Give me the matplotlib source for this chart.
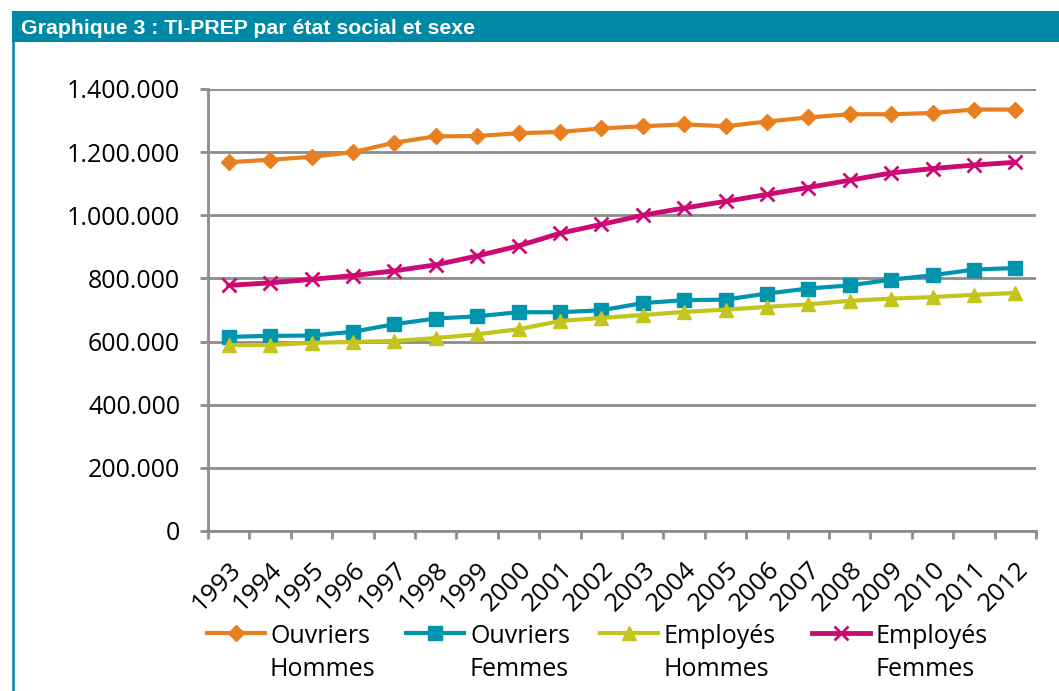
import matplotlib
matplotlib.use("Agg")
import matplotlib.pyplot as plt
from matplotlib.patches import Rectangle
from matplotlib.lines import Line2D
from matplotlib.ticker import FuncFormatter, FixedLocator

years = [str(y) for y in range(1993, 2013)]
ouvriers_hommes = [1168000, 1176000, 1185000, 1200000, 1230000, 1250000, 1251000, 1260000, 1264000, 1275000,
                   1282000, 1288000, 1282000, 1297000, 1310000, 1320000, 1320000, 1324000, 1335000, 1335000]
ouvriers_femmes = [615000, 618000, 619000, 631000, 655000, 673000, 680000, 693000, 693000, 699000,
                   722000, 731000, 733000, 752000, 768000, 778000, 796000, 810000, 828000, 833000]
employes_hommes = [589000, 589000, 596000, 599000, 602000, 611000, 623000, 639000, 665000, 675000,
                   684000, 694000, 701000, 710000, 718000, 729000, 736000, 741000, 748000, 754000]
employes_femmes = [778000, 786000, 797000, 809000, 824000, 843000, 871000, 903000, 943000, 971000,
                   1000000, 1023000, 1044000, 1066000, 1088000, 1111000, 1134000, 1148000, 1159000, 1168000]
series_labels = [("Ouvriers", "Hommes"), ("Ouvriers", "Femmes"), ("Employés", "Hommes"), ("Employés", "Femmes")]
yticks = [0, 200000, 400000, 600000, 800000, 1000000, 1200000, 1400000]
title = "Graphique 3 : TI-PREP par état social et sexe"

TEAL_BAR = "#0089A7"
C_OH = "#E8801F"
C_OF = "#0094AD"
C_EH = "#C3C41C"
C_EF = "#CC0A73"
GRID = "#8C8C8C"

plt.rcParams['font.family'] = ['Open Sans', 'DejaVu Sans']

fig = plt.figure(figsize=(10.59, 6.91), dpi=100)
W, H = 1059, 691

def fx(px):
    return px / W

def fy(py):
    return 1 - py / H

# title bar
fig.patches.append(Rectangle((fx(12), fy(42)), 1 - fx(12), 31 / H, transform=fig.transFigure,
                             facecolor=TEAL_BAR, edgecolor='none'))
fig.text(fx(21), fy(34), title, color='white', fontsize=15.3, fontweight='bold',
         family=['Liberation Sans', 'DejaVu Sans'], va='baseline', ha='left')
# left border line
fig.add_artist(Line2D([fx(13), fx(13)], [0, fy(42)], transform=fig.transFigure,
                      color=TEAL_BAR, lw=1.8))

ax = fig.add_axes([fx(208), fy(531), (1036 - 208) / W, (531 - 89) / H])
x = list(range(len(years)))

styles = [
    dict(color=C_OH, lw=3, marker='D', ms=8),
    dict(color=C_OF, lw=3, marker='s', ms=10),
    dict(color=C_EH, lw=3, marker='^', ms=10),
    dict(color=C_EF, lw=3.5, marker='x', ms=10, mew=2),
]
data = [ouvriers_hommes, ouvriers_femmes, employes_hommes, employes_femmes]
for d, st in zip(data, styles):
    ax.plot(x, d, zorder=3, **st)

ax.set_xlim(-0.5, len(years) - 0.5)
ax.set_ylim(0, 1400000)
ax.set_yticks(yticks)
ax.yaxis.set_major_formatter(FuncFormatter(lambda v, p: f"{int(v):,}".replace(",", ".")))
ax.grid(axis='y', color=GRID, lw=2)
ax.set_axisbelow(True)

ax.set_xticks(x)
ax.set_xticklabels(years, rotation=45, ha='right', rotation_mode='anchor', fontsize=18.5)
ax.tick_params(axis='x', which='major', length=0, pad=19)
ax.xaxis.set_minor_locator(FixedLocator([i - 0.5 for i in range(len(years) + 1)]))
ax.tick_params(axis='x', which='minor', length=6, width=2, color=GRID)
ax.tick_params(axis='y', length=6, width=2, color=GRID, labelsize=18, pad=14)

for s in ['top', 'right']:
    ax.spines[s].set_visible(False)
for s in ['left', 'bottom']:
    ax.spines[s].set_color(GRID)
    ax.spines[s].set_linewidth(2)

# legend (Excel style: handle aligned with first line of two-line label)
legend_pos = [(207, 265, 270), (406, 464, 470), (600, 658, 664), (812, 870, 875)]
for (h0, h1, tx), st, (l1, l2) in zip(legend_pos, styles, series_labels):
    fig.add_artist(Line2D([fx(h0), fx(h1)], [fy(633), fy(633)], transform=fig.transFigure,
                          color=st['color'], lw=st['lw']))
    mk = {k: v for k, v in st.items() if k in ('marker', 'ms', 'mew')}
    fig.add_artist(Line2D([fx((h0 + h1) / 2)], [fy(633)], transform=fig.transFigure,
                          color=st['color'], lw=0, **mk))
    fig.text(fx(tx), fy(643), l1, fontsize=18, va='baseline', ha='left', color='black')
    fig.text(fx(tx), fy(676), l2, fontsize=18, va='baseline', ha='left', color='black')

fig.savefig("out.png", dpi=100)
